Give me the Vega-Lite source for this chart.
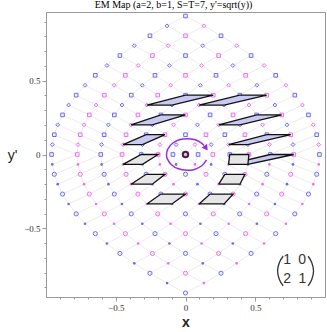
{
"$schema":"https://vega.github.io/schema/vega-lite/v6.json",
"width":279,"height":285,
"autosize":"none",
"padding":{"left":46,"top":12,"right":2,"bottom":35},
"background":"white",
"title":{"text":"EM Map (a=2, b=1, S=T=7, y'=sqrt(y))","font":"Liberation Serif","fontSize":10,"fontWeight":"normal","color":"#000","anchor":"middle","dx":-12,"offset":-8,"baseline":"bottom"},
"config":{"legend":{"disable":true},"view":{"stroke":"#999","strokeWidth":1}},
"datasets":{
"pts":[
{"x":0,"y":0.938,"p":0,"q":0,"c":"b","s":"sq"},
{"x":-0.1322,"y":0.871,"p":0,"q":1,"c":"b","s":"di"},{"x":0.1322,"y":0.871,"p":1,"q":0,"c":"p","s":"di"},
{"x":-0.2547,"y":0.804,"p":0,"q":2,"c":"b","s":"sq"},{"x":0,"y":0.804,"p":1,"q":1,"c":"p","s":"sq"},{"x":0.2547,"y":0.804,"p":2,"q":0,"c":"b","s":"sq"},
{"x":-0.3673,"y":0.737,"p":0,"q":3,"c":"b","s":"di"},{"x":-0.1239,"y":0.737,"p":1,"q":2,"c":"p","s":"di"},{"x":0.1239,"y":0.737,"p":2,"q":1,"c":"b","s":"di"},{"x":0.3673,"y":0.737,"p":3,"q":0,"c":"p","s":"di"},
{"x":-0.4702,"y":0.670,"p":0,"q":4,"c":"b","s":"sq"},{"x":-0.2371,"y":0.670,"p":1,"q":3,"c":"p","s":"sq"},{"x":0,"y":0.670,"p":2,"q":2,"c":"b","s":"sq"},{"x":0.2371,"y":0.670,"p":3,"q":1,"c":"p","s":"sq"},{"x":0.4702,"y":0.670,"p":4,"q":0,"c":"b","s":"sq"},
{"x":-0.5633,"y":0.603,"p":0,"q":5,"c":"b","s":"di"},{"x":-0.3394,"y":0.603,"p":1,"q":4,"c":"p","s":"di"},{"x":-0.1154,"y":0.603,"p":2,"q":3,"c":"b","s":"di"},{"x":0.1154,"y":0.603,"p":3,"q":2,"c":"p","s":"di"},{"x":0.3394,"y":0.603,"p":4,"q":1,"c":"b","s":"di"},{"x":0.5633,"y":0.603,"p":5,"q":0,"c":"p","s":"di"},
{"x":-0.6465,"y":0.536,"p":0,"q":6,"c":"b","s":"sq"},{"x":-0.4310,"y":0.536,"p":1,"q":5,"c":"p","s":"sq"},{"x":-0.2186,"y":0.536,"p":2,"q":4,"c":"b","s":"sq"},{"x":0,"y":0.536,"p":3,"q":3,"c":"p","s":"sq"},{"x":0.2186,"y":0.536,"p":4,"q":2,"c":"b","s":"sq"},{"x":0.4310,"y":0.536,"p":5,"q":1,"c":"p","s":"sq"},{"x":0.6465,"y":0.536,"p":6,"q":0,"c":"b","s":"sq"},
{"x":-0.72,"y":0.469,"p":0,"q":7,"c":"b","s":"di"},{"x":-0.5118,"y":0.469,"p":1,"q":6,"c":"p","s":"di"},{"x":-0.3097,"y":0.469,"p":2,"q":5,"c":"b","s":"di"},{"x":-0.1065,"y":0.469,"p":3,"q":4,"c":"p","s":"di"},{"x":0.1065,"y":0.469,"p":4,"q":3,"c":"b","s":"di"},{"x":0.3097,"y":0.469,"p":5,"q":2,"c":"p","s":"di"},{"x":0.5118,"y":0.469,"p":6,"q":1,"c":"b","s":"di"},{"x":0.72,"y":0.469,"p":7,"q":0,"c":"p","s":"di"},
{"x":-0.7837,"y":0.402,"p":0,"q":8,"c":"b","s":"sq"},{"x":-0.5819,"y":0.402,"p":1,"q":7,"c":"p","s":"sq"},{"x":-0.3887,"y":0.402,"p":2,"q":6,"c":"b","s":"sq"},{"x":-0.1989,"y":0.402,"p":3,"q":5,"c":"p","s":"sq"},{"x":0,"y":0.402,"p":4,"q":4,"c":"b","s":"sq"},{"x":0.1989,"y":0.402,"p":5,"q":3,"c":"p","s":"sq"},{"x":0.3887,"y":0.402,"p":6,"q":2,"c":"b","s":"sq"},{"x":0.5819,"y":0.402,"p":7,"q":1,"c":"p","s":"sq"},{"x":0.7837,"y":0.402,"p":8,"q":0,"c":"b","s":"sq"},
{"x":-0.8376,"y":0.335,"p":0,"q":9,"c":"b","s":"di"},{"x":-0.6411,"y":0.335,"p":1,"q":8,"c":"p","s":"di"},{"x":-0.4555,"y":0.335,"p":2,"q":7,"c":"b","s":"di"},{"x":-0.2770,"y":0.335,"p":3,"q":6,"c":"p","s":"di"},{"x":-0.0970,"y":0.335,"p":4,"q":5,"c":"b","s":"di"},{"x":0.0970,"y":0.335,"p":5,"q":4,"c":"p","s":"di"},{"x":0.2770,"y":0.335,"p":6,"q":3,"c":"b","s":"di"},{"x":0.4555,"y":0.335,"p":7,"q":2,"c":"p","s":"di"},{"x":0.6411,"y":0.335,"p":8,"q":1,"c":"b","s":"di"},{"x":0.8376,"y":0.335,"p":9,"q":0,"c":"p","s":"di"},
{"x":-0.8816,"y":0.268,"p":0,"q":10,"c":"b","s":"sq"},{"x":-0.6896,"y":0.268,"p":1,"q":9,"c":"p","s":"sq"},{"x":-0.5102,"y":0.268,"p":2,"q":8,"c":"b","s":"sq"},{"x":-0.3409,"y":0.268,"p":3,"q":7,"c":"p","s":"sq"},{"x":-0.1763,"y":0.268,"p":4,"q":6,"c":"b","s":"sq"},{"x":0,"y":0.268,"p":5,"q":5,"c":"p","s":"sq"},{"x":0.1763,"y":0.268,"p":6,"q":4,"c":"b","s":"sq"},{"x":0.3409,"y":0.268,"p":7,"q":3,"c":"p","s":"sq"},{"x":0.5102,"y":0.268,"p":8,"q":2,"c":"b","s":"sq"},{"x":0.6896,"y":0.268,"p":9,"q":1,"c":"p","s":"sq"},{"x":0.8816,"y":0.268,"p":10,"q":0,"c":"b","s":"sq"},
{"x":-0.9159,"y":0.201,"p":0,"q":11,"c":"b","s":"di"},{"x":-0.7274,"y":0.201,"p":1,"q":10,"c":"p","s":"di"},{"x":-0.5527,"y":0.201,"p":2,"q":9,"c":"b","s":"di"},{"x":-0.3906,"y":0.201,"p":3,"q":8,"c":"p","s":"di"},{"x":-0.2380,"y":0.201,"p":4,"q":7,"c":"b","s":"di"},{"x":-0.0857,"y":0.201,"p":5,"q":6,"c":"p","s":"di"},{"x":0.0857,"y":0.201,"p":6,"q":5,"c":"b","s":"di"},{"x":0.2380,"y":0.201,"p":7,"q":4,"c":"p","s":"di"},{"x":0.3906,"y":0.201,"p":8,"q":3,"c":"b","s":"di"},{"x":0.5527,"y":0.201,"p":9,"q":2,"c":"p","s":"di"},{"x":0.7274,"y":0.201,"p":10,"q":1,"c":"b","s":"di"},{"x":0.9159,"y":0.201,"p":11,"q":0,"c":"p","s":"di"},
{"x":-0.9404,"y":0.134,"p":0,"q":12,"c":"b","s":"sq"},{"x":-0.7543,"y":0.134,"p":1,"q":11,"c":"p","s":"sq"},{"x":-0.5831,"y":0.134,"p":2,"q":10,"c":"b","s":"sq"},{"x":-0.4261,"y":0.134,"p":3,"q":9,"c":"p","s":"sq"},{"x":-0.2821,"y":0.134,"p":4,"q":8,"c":"b","s":"sq"},{"x":-0.1469,"y":0.134,"p":5,"q":7,"c":"p","s":"sq"},{"x":0,"y":0.134,"p":6,"q":6,"c":"b","s":"sq"},{"x":0.1469,"y":0.134,"p":7,"q":5,"c":"p","s":"sq"},{"x":0.2821,"y":0.134,"p":8,"q":4,"c":"b","s":"sq"},{"x":0.4261,"y":0.134,"p":9,"q":3,"c":"p","s":"sq"},{"x":0.5831,"y":0.134,"p":10,"q":2,"c":"b","s":"sq"},{"x":0.7543,"y":0.134,"p":11,"q":1,"c":"p","s":"sq"},{"x":0.9404,"y":0.134,"p":12,"q":0,"c":"b","s":"sq"},
{"x":-0.9551,"y":0.067,"p":0,"q":13,"c":"b","s":"di"},{"x":-0.7705,"y":0.067,"p":1,"q":12,"c":"p","s":"di"},{"x":-0.6013,"y":0.067,"p":2,"q":11,"c":"b","s":"di"},{"x":-0.4474,"y":0.067,"p":3,"q":10,"c":"p","s":"di"},{"x":-0.3086,"y":0.067,"p":4,"q":9,"c":"b","s":"di"},{"x":-0.1837,"y":0.067,"p":5,"q":8,"c":"p","s":"di"},{"x":-0.0676,"y":0.067,"p":6,"q":7,"c":"b","s":"di"},{"x":0.0676,"y":0.067,"p":7,"q":6,"c":"p","s":"di"},{"x":0.1837,"y":0.067,"p":8,"q":5,"c":"b","s":"di"},{"x":0.3086,"y":0.067,"p":9,"q":4,"c":"p","s":"di"},{"x":0.4474,"y":0.067,"p":10,"q":3,"c":"b","s":"di"},{"x":0.6013,"y":0.067,"p":11,"q":2,"c":"p","s":"di"},{"x":0.7705,"y":0.067,"p":12,"q":1,"c":"b","s":"di"},{"x":0.9551,"y":0.067,"p":13,"q":0,"c":"p","s":"di"},
{"x":-0.96,"y":0,"p":0,"q":14,"c":"b","s":"sq"},{"x":-0.7758,"y":0,"p":1,"q":13,"c":"p","s":"sq"},{"x":-0.6074,"y":0,"p":2,"q":12,"c":"b","s":"sq"},{"x":-0.4545,"y":0,"p":3,"q":11,"c":"p","s":"sq"},{"x":-0.3174,"y":0,"p":4,"q":10,"c":"b","s":"sq"},{"x":-0.1959,"y":0,"p":5,"q":9,"c":"p","s":"sq"},{"x":-0.0901,"y":0,"p":6,"q":8,"c":"b","s":"sq"},{"x":0,"y":0,"p":7,"q":7,"c":"p","s":"ctr"},{"x":0.0901,"y":0,"p":8,"q":6,"c":"b","s":"sq"},{"x":0.1959,"y":0,"p":9,"q":5,"c":"p","s":"sq"},{"x":0.3174,"y":0,"p":10,"q":4,"c":"b","s":"sq"},{"x":0.4545,"y":0,"p":11,"q":3,"c":"p","s":"sq"},{"x":0.6074,"y":0,"p":12,"q":2,"c":"b","s":"sq"},{"x":0.7758,"y":0,"p":13,"q":1,"c":"p","s":"sq"},{"x":0.96,"y":0,"p":14,"q":0,"c":"b","s":"sq"},
{"x":-0.9551,"y":-0.067,"p":1,"q":14,"c":"b","s":"dot"},{"x":-0.7705,"y":-0.067,"p":2,"q":13,"c":"p","s":"dot"},{"x":-0.6013,"y":-0.067,"p":3,"q":12,"c":"b","s":"dot"},{"x":-0.4474,"y":-0.067,"p":4,"q":11,"c":"p","s":"dot"},{"x":-0.3086,"y":-0.067,"p":5,"q":10,"c":"b","s":"dot"},{"x":-0.1837,"y":-0.067,"p":6,"q":9,"c":"p","s":"dot"},{"x":-0.0676,"y":-0.067,"p":7,"q":8,"c":"b","s":"dot"},{"x":0.0676,"y":-0.067,"p":8,"q":7,"c":"p","s":"dot"},{"x":0.1837,"y":-0.067,"p":9,"q":6,"c":"b","s":"dot"},{"x":0.3086,"y":-0.067,"p":10,"q":5,"c":"p","s":"dot"},{"x":0.4474,"y":-0.067,"p":11,"q":4,"c":"b","s":"dot"},{"x":0.6013,"y":-0.067,"p":12,"q":3,"c":"p","s":"dot"},{"x":0.7705,"y":-0.067,"p":13,"q":2,"c":"b","s":"dot"},{"x":0.9551,"y":-0.067,"p":14,"q":1,"c":"p","s":"dot"},
{"x":-0.9404,"y":-0.134,"p":2,"q":14,"c":"b","s":"ci"},{"x":-0.7543,"y":-0.134,"p":3,"q":13,"c":"p","s":"ci"},{"x":-0.5831,"y":-0.134,"p":4,"q":12,"c":"b","s":"ci"},{"x":-0.4261,"y":-0.134,"p":5,"q":11,"c":"p","s":"ci"},{"x":-0.2821,"y":-0.134,"p":6,"q":10,"c":"b","s":"ci"},{"x":-0.1469,"y":-0.134,"p":7,"q":9,"c":"p","s":"ci"},{"x":0,"y":-0.134,"p":8,"q":8,"c":"b","s":"ci"},{"x":0.1469,"y":-0.134,"p":9,"q":7,"c":"p","s":"ci"},{"x":0.2821,"y":-0.134,"p":10,"q":6,"c":"b","s":"ci"},{"x":0.4261,"y":-0.134,"p":11,"q":5,"c":"p","s":"ci"},{"x":0.5831,"y":-0.134,"p":12,"q":4,"c":"b","s":"ci"},{"x":0.7543,"y":-0.134,"p":13,"q":3,"c":"p","s":"ci"},{"x":0.9404,"y":-0.134,"p":14,"q":2,"c":"b","s":"ci"},
{"x":-0.9159,"y":-0.201,"p":3,"q":14,"c":"b","s":"dot"},{"x":-0.7274,"y":-0.201,"p":4,"q":13,"c":"p","s":"dot"},{"x":-0.5527,"y":-0.201,"p":5,"q":12,"c":"b","s":"dot"},{"x":-0.3906,"y":-0.201,"p":6,"q":11,"c":"p","s":"dot"},{"x":-0.2380,"y":-0.201,"p":7,"q":10,"c":"b","s":"dot"},{"x":-0.0857,"y":-0.201,"p":8,"q":9,"c":"p","s":"dot"},{"x":0.0857,"y":-0.201,"p":9,"q":8,"c":"b","s":"dot"},{"x":0.2380,"y":-0.201,"p":10,"q":7,"c":"p","s":"dot"},{"x":0.3906,"y":-0.201,"p":11,"q":6,"c":"b","s":"dot"},{"x":0.5527,"y":-0.201,"p":12,"q":5,"c":"p","s":"dot"},{"x":0.7274,"y":-0.201,"p":13,"q":4,"c":"b","s":"dot"},{"x":0.9159,"y":-0.201,"p":14,"q":3,"c":"p","s":"dot"},
{"x":-0.8816,"y":-0.268,"p":4,"q":14,"c":"b","s":"ci"},{"x":-0.6896,"y":-0.268,"p":5,"q":13,"c":"p","s":"ci"},{"x":-0.5102,"y":-0.268,"p":6,"q":12,"c":"b","s":"ci"},{"x":-0.3409,"y":-0.268,"p":7,"q":11,"c":"p","s":"ci"},{"x":-0.1763,"y":-0.268,"p":8,"q":10,"c":"b","s":"ci"},{"x":0,"y":-0.268,"p":9,"q":9,"c":"p","s":"ci"},{"x":0.1763,"y":-0.268,"p":10,"q":8,"c":"b","s":"ci"},{"x":0.3409,"y":-0.268,"p":11,"q":7,"c":"p","s":"ci"},{"x":0.5102,"y":-0.268,"p":12,"q":6,"c":"b","s":"ci"},{"x":0.6896,"y":-0.268,"p":13,"q":5,"c":"p","s":"ci"},{"x":0.8816,"y":-0.268,"p":14,"q":4,"c":"b","s":"ci"},
{"x":-0.8376,"y":-0.335,"p":5,"q":14,"c":"b","s":"dot"},{"x":-0.6411,"y":-0.335,"p":6,"q":13,"c":"p","s":"dot"},{"x":-0.4555,"y":-0.335,"p":7,"q":12,"c":"b","s":"dot"},{"x":-0.2770,"y":-0.335,"p":8,"q":11,"c":"p","s":"dot"},{"x":-0.0970,"y":-0.335,"p":9,"q":10,"c":"b","s":"dot"},{"x":0.0970,"y":-0.335,"p":10,"q":9,"c":"p","s":"dot"},{"x":0.2770,"y":-0.335,"p":11,"q":8,"c":"b","s":"dot"},{"x":0.4555,"y":-0.335,"p":12,"q":7,"c":"p","s":"dot"},{"x":0.6411,"y":-0.335,"p":13,"q":6,"c":"b","s":"dot"},{"x":0.8376,"y":-0.335,"p":14,"q":5,"c":"p","s":"dot"},
{"x":-0.7837,"y":-0.402,"p":6,"q":14,"c":"b","s":"ci"},{"x":-0.5819,"y":-0.402,"p":7,"q":13,"c":"p","s":"ci"},{"x":-0.3887,"y":-0.402,"p":8,"q":12,"c":"b","s":"ci"},{"x":-0.1989,"y":-0.402,"p":9,"q":11,"c":"p","s":"ci"},{"x":0,"y":-0.402,"p":10,"q":10,"c":"b","s":"ci"},{"x":0.1989,"y":-0.402,"p":11,"q":9,"c":"p","s":"ci"},{"x":0.3887,"y":-0.402,"p":12,"q":8,"c":"b","s":"ci"},{"x":0.5819,"y":-0.402,"p":13,"q":7,"c":"p","s":"ci"},{"x":0.7837,"y":-0.402,"p":14,"q":6,"c":"b","s":"ci"},
{"x":-0.72,"y":-0.469,"p":7,"q":14,"c":"b","s":"dot"},{"x":-0.5118,"y":-0.469,"p":8,"q":13,"c":"p","s":"dot"},{"x":-0.3097,"y":-0.469,"p":9,"q":12,"c":"b","s":"dot"},{"x":-0.1065,"y":-0.469,"p":10,"q":11,"c":"p","s":"dot"},{"x":0.1065,"y":-0.469,"p":11,"q":10,"c":"b","s":"dot"},{"x":0.3097,"y":-0.469,"p":12,"q":9,"c":"p","s":"dot"},{"x":0.5118,"y":-0.469,"p":13,"q":8,"c":"b","s":"dot"},{"x":0.72,"y":-0.469,"p":14,"q":7,"c":"p","s":"dot"},
{"x":-0.6465,"y":-0.536,"p":8,"q":14,"c":"b","s":"ci"},{"x":-0.4310,"y":-0.536,"p":9,"q":13,"c":"p","s":"ci"},{"x":-0.2186,"y":-0.536,"p":10,"q":12,"c":"b","s":"ci"},{"x":0,"y":-0.536,"p":11,"q":11,"c":"p","s":"ci"},{"x":0.2186,"y":-0.536,"p":12,"q":10,"c":"b","s":"ci"},{"x":0.4310,"y":-0.536,"p":13,"q":9,"c":"p","s":"ci"},{"x":0.6465,"y":-0.536,"p":14,"q":8,"c":"b","s":"ci"},
{"x":-0.5633,"y":-0.603,"p":9,"q":14,"c":"b","s":"dot"},{"x":-0.3394,"y":-0.603,"p":10,"q":13,"c":"p","s":"dot"},{"x":-0.1154,"y":-0.603,"p":11,"q":12,"c":"b","s":"dot"},{"x":0.1154,"y":-0.603,"p":12,"q":11,"c":"p","s":"dot"},{"x":0.3394,"y":-0.603,"p":13,"q":10,"c":"b","s":"dot"},{"x":0.5633,"y":-0.603,"p":14,"q":9,"c":"p","s":"dot"},
{"x":-0.4702,"y":-0.670,"p":10,"q":14,"c":"b","s":"ci"},{"x":-0.2371,"y":-0.670,"p":11,"q":13,"c":"p","s":"ci"},{"x":0,"y":-0.670,"p":12,"q":12,"c":"b","s":"ci"},{"x":0.2371,"y":-0.670,"p":13,"q":11,"c":"p","s":"ci"},{"x":0.4702,"y":-0.670,"p":14,"q":10,"c":"b","s":"ci"},
{"x":-0.3673,"y":-0.737,"p":11,"q":14,"c":"b","s":"dot"},{"x":-0.1239,"y":-0.737,"p":12,"q":13,"c":"p","s":"dot"},{"x":0.1239,"y":-0.737,"p":13,"q":12,"c":"b","s":"dot"},{"x":0.3673,"y":-0.737,"p":14,"q":11,"c":"p","s":"dot"},
{"x":-0.2547,"y":-0.804,"p":12,"q":14,"c":"b","s":"ci"},{"x":0,"y":-0.804,"p":13,"q":13,"c":"p","s":"ci"},{"x":0.2547,"y":-0.804,"p":14,"q":12,"c":"b","s":"ci"},
{"x":-0.1322,"y":-0.871,"p":13,"q":14,"c":"b","s":"dot"},{"x":0.1322,"y":-0.871,"p":14,"q":13,"c":"p","s":"dot"},
{"x":0,"y":-0.938,"p":14,"q":14,"c":"b","s":"ci"}
],
"poly":[
{"id":"L1","k":"L","o":0,"x":-0.2770,"y":0.335},{"id":"L1","k":"L","o":1,"x":-0.0970,"y":0.335},{"id":"L1","k":"L","o":2,"x":0.1989,"y":0.402},{"id":"L1","k":"L","o":3,"x":0,"y":0.402},{"id":"L1","k":"L","o":4,"x":-0.2770,"y":0.335},
{"id":"L2","k":"L","o":0,"x":0.0970,"y":0.335},{"id":"L2","k":"L","o":1,"x":0.2770,"y":0.335},{"id":"L2","k":"L","o":2,"x":0.5819,"y":0.402},{"id":"L2","k":"L","o":3,"x":0.3887,"y":0.402},{"id":"L2","k":"L","o":4,"x":0.0970,"y":0.335},
{"id":"L3","k":"L","o":0,"x":-0.3906,"y":0.201},{"id":"L3","k":"L","o":1,"x":-0.2380,"y":0.201},{"id":"L3","k":"L","o":2,"x":0,"y":0.268},{"id":"L3","k":"L","o":3,"x":-0.1763,"y":0.268},{"id":"L3","k":"L","o":4,"x":-0.3906,"y":0.201},
{"id":"L4","k":"L","o":0,"x":0.2380,"y":0.201},{"id":"L4","k":"L","o":1,"x":0.3906,"y":0.201},{"id":"L4","k":"L","o":2,"x":0.6896,"y":0.268},{"id":"L4","k":"L","o":3,"x":0.5102,"y":0.268},{"id":"L4","k":"L","o":4,"x":0.2380,"y":0.201},
{"id":"L5","k":"L","o":0,"x":-0.4474,"y":0.067},{"id":"L5","k":"L","o":1,"x":-0.3086,"y":0.067},{"id":"L5","k":"L","o":2,"x":-0.1469,"y":0.134},{"id":"L5","k":"L","o":3,"x":-0.2821,"y":0.134},{"id":"L5","k":"L","o":4,"x":-0.4474,"y":0.067},
{"id":"L6","k":"L","o":0,"x":0.3086,"y":0.067},{"id":"L6","k":"L","o":1,"x":0.4474,"y":0.067},{"id":"L6","k":"L","o":2,"x":0.7543,"y":0.134},{"id":"L6","k":"L","o":3,"x":0.5831,"y":0.134},{"id":"L6","k":"L","o":4,"x":0.3086,"y":0.067},
{"id":"L7","k":"L","o":0,"x":0.3086,"y":-0.067},{"id":"L7","k":"L","o":1,"x":0.4474,"y":-0.067},{"id":"L7","k":"L","o":2,"x":0.7758,"y":0},{"id":"L7","k":"L","o":3,"x":0.6074,"y":0},{"id":"L7","k":"L","o":4,"x":0.3086,"y":-0.067},
{"id":"G1","k":"G","o":0,"x":-0.4474,"y":-0.067},{"id":"G1","k":"G","o":1,"x":-0.3086,"y":-0.067},{"id":"G1","k":"G","o":2,"x":-0.1959,"y":0},{"id":"G1","k":"G","o":3,"x":-0.3174,"y":0},{"id":"G1","k":"G","o":4,"x":-0.4474,"y":-0.067},
{"id":"G2","k":"G","o":0,"x":0.3086,"y":-0.067},{"id":"G2","k":"G","o":1,"x":0.4474,"y":-0.067},{"id":"G2","k":"G","o":2,"x":0.4545,"y":0},{"id":"G2","k":"G","o":3,"x":0.3174,"y":0},{"id":"G2","k":"G","o":4,"x":0.3086,"y":-0.067},
{"id":"G3","k":"G","o":0,"x":-0.3906,"y":-0.201},{"id":"G3","k":"G","o":1,"x":-0.2380,"y":-0.201},{"id":"G3","k":"G","o":2,"x":-0.1469,"y":-0.134},{"id":"G3","k":"G","o":3,"x":-0.2821,"y":-0.134},{"id":"G3","k":"G","o":4,"x":-0.3906,"y":-0.201},
{"id":"G4","k":"G","o":0,"x":0.2380,"y":-0.201},{"id":"G4","k":"G","o":1,"x":0.3906,"y":-0.201},{"id":"G4","k":"G","o":2,"x":0.4261,"y":-0.134},{"id":"G4","k":"G","o":3,"x":0.2821,"y":-0.134},{"id":"G4","k":"G","o":4,"x":0.2380,"y":-0.201},
{"id":"G5","k":"G","o":0,"x":-0.2770,"y":-0.335},{"id":"G5","k":"G","o":1,"x":-0.0970,"y":-0.335},{"id":"G5","k":"G","o":2,"x":0,"y":-0.268},{"id":"G5","k":"G","o":3,"x":-0.1763,"y":-0.268},{"id":"G5","k":"G","o":4,"x":-0.2770,"y":-0.335},
{"id":"G6","k":"G","o":0,"x":0.0970,"y":-0.335},{"id":"G6","k":"G","o":1,"x":0.2770,"y":-0.335},{"id":"G6","k":"G","o":2,"x":0.3409,"y":-0.268},{"id":"G6","k":"G","o":3,"x":0.1763,"y":-0.268},{"id":"G6","k":"G","o":4,"x":0.0970,"y":-0.335}
],
"arc":[
{"o":0,"x":0.151,"y":-0.037},{"o":1,"x":0.117,"y":-0.076},{"o":2,"x":0.063,"y":-0.101},{"o":3,"x":0.012,"y":-0.107},{"o":4,"x":-0.051,"y":-0.097},{"o":5,"x":-0.101,"y":-0.069},{"o":6,"x":-0.131,"y":-0.028},{"o":7,"x":-0.136,"y":0},{"o":8,"x":-0.127,"y":0.037},{"o":9,"x":-0.093,"y":0.076},{"o":10,"x":-0.039,"y":0.101},{"o":11,"x":0.012,"y":0.107},{"o":12,"x":0.063,"y":0.101},{"o":13,"x":0.107,"y":0.082},{"o":14,"x":0.133,"y":0.061}
],
"head":[{"x":0.147,"y":0.043}],
"ctr":[{"x":0,"y":0}],
"paren":[
{"id":"l","o":0,"x":0.700,"y":-0.689},{"id":"l","o":1,"x":0.673,"y":-0.731},{"id":"l","o":2,"x":0.660,"y":-0.789},{"id":"l","o":3,"x":0.673,"y":-0.846},{"id":"l","o":4,"x":0.700,"y":-0.890},
{"id":"r","o":0,"x":0.879,"y":-0.689},{"id":"r","o":1,"x":0.905,"y":-0.731},{"id":"r","o":2,"x":0.918,"y":-0.789},{"id":"r","o":3,"x":0.905,"y":-0.846},{"id":"r","o":4,"x":0.879,"y":-0.890}
],
"mat":[{"x":0.728,"y":-0.714,"t":"1"},{"x":0.836,"y":-0.714,"t":"0"},{"x":0.728,"y":-0.840,"t":"2"},{"x":0.838,"y":-0.840,"t":"1"}]
},
"encoding":{
"x":{"field":"x","type":"quantitative","scale":{"domain":[-1,1],"nice":false,"zero":false},
"axis":{"title":"x","values":[-0.9,-0.8,-0.7,-0.6,-0.5,-0.4,-0.3,-0.2,-0.1,0,0.1,0.2,0.3,0.4,0.5,0.6,0.7,0.8,0.9],"format":".1~f",
"labelExpr":"(abs(abs(datum.value)-0.5)<0.01 || abs(datum.value)<0.01) ? datum.label : ''",
"grid":false,"domainColor":"#999","tickColor":"#999",
"tickSize":{"condition":{"test":"abs(abs(datum.value)-0.5)<0.01 || abs(datum.value)<0.01","value":4},"value":2},
"labelFont":"Liberation Serif","labelFontSize":9,"labelColor":"#333","labelPadding":2,
"titleFont":"Liberation Sans","titleFontSize":14,"titleFontWeight":"bold","titleColor":"#222","titleY":25,"titleBaseline":"middle"}},
"y":{"field":"y","type":"quantitative","scale":{"domain":[-0.965,0.965],"nice":false,"zero":false},
"axis":{"title":"y'","values":[-0.9,-0.8,-0.7,-0.6,-0.5,-0.4,-0.3,-0.2,-0.1,0,0.1,0.2,0.3,0.4,0.5,0.6,0.7,0.8,0.9],"format":".1~f",
"labelExpr":"(abs(abs(datum.value)-0.5)<0.01 || abs(datum.value)<0.01) ? datum.label : ''",
"grid":false,"domainColor":"#999","tickColor":"#999",
"tickSize":{"condition":{"test":"abs(abs(datum.value)-0.5)<0.01 || abs(datum.value)<0.01","value":4},"value":2},
"labelFont":"Liberation Serif","labelFontSize":9,"labelColor":"#333","labelPadding":2,
"titleFont":"Liberation Sans","titleFontSize":14,"titleFontWeight":"normal","titleColor":"#222","titleAngle":0,"titleX":-34,"titleY":143,"titleAlign":"center","titleBaseline":"middle"}}
},
"layer":[
{"data":{"name":"pts"},"mark":{"type":"line","stroke":"#e4e4e4","strokeWidth":0.7},"encoding":{"detail":{"field":"p"},"order":{"field":"q","type":"quantitative"}}},
{"data":{"name":"pts"},"mark":{"type":"line","stroke":"#e4e4e4","strokeWidth":0.7},"encoding":{"detail":{"field":"q"},"order":{"field":"p","type":"quantitative"}}},
{"data":{"name":"pts"},"transform":[{"filter":"datum.s=='sq' || datum.s=='di' || datum.s=='ci'"}],"mark":{"type":"point","filled":false,"strokeWidth":1,"opacity":1},
"encoding":{"color":{"field":"c","type":"nominal","scale":{"domain":["b","p"],"range":["#6b6bef","#ef70ef"]}},
"shape":{"field":"s","type":"nominal","scale":{"domain":["sq","di","ci"],"range":["square","diamond","circle"]}},
"size":{"field":"s","type":"nominal","scale":{"domain":["sq","di","ci"],"range":[13,17,20]}}}},
{"data":{"name":"pts"},"transform":[{"filter":"datum.s=='dot'"}],"mark":{"type":"point","filled":true,"shape":"circle","size":7,"opacity":1},
"encoding":{"color":{"field":"c","type":"nominal","scale":{"domain":["b","p"],"range":["#6b6bef","#ef70ef"]}}}},
{"data":{"name":"poly"},"transform":[{"filter":"datum.k=='L'"}],"mark":{"type":"line","stroke":"#111","strokeWidth":1.3,"fill":"#c9c9f2","strokeJoin":"miter"},"encoding":{"detail":{"field":"id"},"order":{"field":"o","type":"quantitative"}}},
{"data":{"name":"poly"},"transform":[{"filter":"datum.k=='G'"}],"mark":{"type":"line","stroke":"#111","strokeWidth":1.3,"fill":"#e6e6e6","strokeJoin":"miter"},"encoding":{"detail":{"field":"id"},"order":{"field":"o","type":"quantitative"}}},
{"data":{"name":"ctr"},"mark":{"type":"point","shape":"circle","size":30,"filled":false,"fill":"#e8b8e8","fillOpacity":1,"stroke":"#4a2040","strokeWidth":2,"opacity":1}},
{"data":{"name":"arc"},"mark":{"type":"line","stroke":"#9a2fd0","strokeWidth":1.5,"interpolate":"cardinal"},"encoding":{"order":{"field":"o","type":"quantitative"}}},
{"data":{"name":"head"},"mark":{"type":"point","shape":"triangle-right","filled":true,"color":"#9a2fd0","size":45,"angle":55,"opacity":1}},
{"data":{"name":"paren"},"mark":{"type":"line","stroke":"#333","strokeWidth":1.3,"interpolate":"cardinal"},"encoding":{"detail":{"field":"id"},"order":{"field":"o","type":"quantitative"}}},
{"data":{"name":"mat"},"mark":{"type":"text","font":"Liberation Sans","fontSize":14,"color":"#333","align":"center","baseline":"middle"},"encoding":{"text":{"field":"t"}}}
]
}
